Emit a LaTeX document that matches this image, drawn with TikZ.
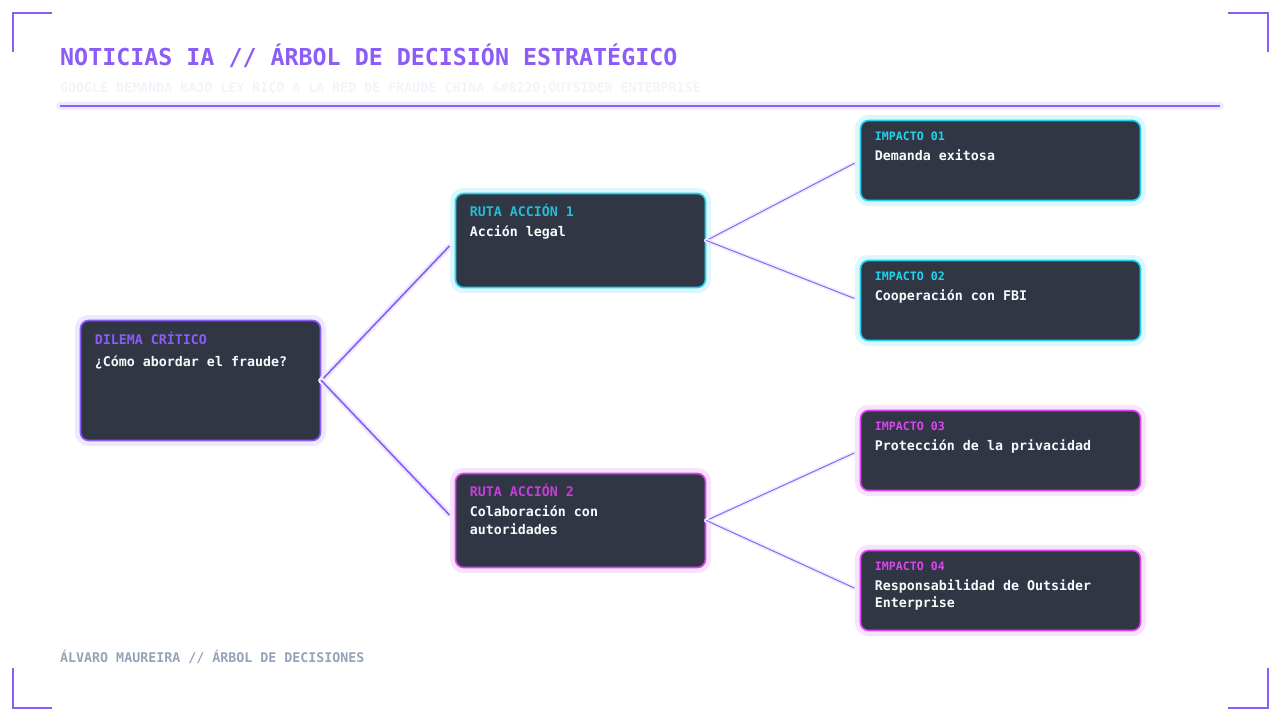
\documentclass[tikz,border=0pt]{standalone}
\usepackage{fontspec}
\setmainfont{DejaVu Sans Mono}
\usetikzlibrary{positioning}
\definecolor{violeta}{HTML}{8B5CF6}
\definecolor{glowv}{HTML}{EDE9FE}
\definecolor{cian}{HTML}{22D3EE}
\definecolor{cianlbl}{HTML}{26BCD6}
\definecolor{glowc}{HTML}{DDF7FC}
\definecolor{magenta}{HTML}{D946EF}
\definecolor{magentalbl}{HTML}{C73FDB}
\definecolor{glowm}{HTML}{F7E3FC}
\definecolor{panel}{HTML}{303644}
\definecolor{blanco}{HTML}{F8FAFC}
\definecolor{tenue}{HTML}{F1F5F9}
\definecolor{gris}{HTML}{94A3B8}

\begin{document}
\begin{tikzpicture}[x=1pt,y=-1pt,line cap=round]
\tikzstyle{marco}=[draw=violeta, line width=2pt, line cap=butt]
\tikzstyle{box}=[draw, rounded corners=8pt, fill=panel, line width=1.6pt, inner sep=0pt]
\tikzstyle{dilema}=[box, draw=violeta, preaction={draw=glowv, line width=11pt}, minimum width=240pt, minimum height=120pt]
\tikzstyle{rutac}=[box, draw=cian, preaction={draw=glowc, line width=11pt}, minimum width=250pt, minimum height=94pt]
\tikzstyle{rutam}=[box, draw=magenta, preaction={draw=glowm, line width=11pt}, minimum width=250pt, minimum height=94pt]
\tikzstyle{impc}=[box, draw=cian, preaction={draw=glowc, line width=11pt}, minimum width=280pt, minimum height=80pt]
\tikzstyle{impm}=[box, draw=magenta, preaction={draw=glowm, line width=11pt}, minimum width=280pt, minimum height=80pt]
\tikzstyle{lbl}=[inner sep=0pt, font=\fontsize{13.3}{16}\selectfont\bfseries]
\tikzstyle{lblchico}=[inner sep=0pt, font=\fontsize{11.6}{14}\selectfont\bfseries]
\tikzstyle{txt}=[inner sep=0pt, text=blanco, align=left, font=\fontsize{13.3}{18}\selectfont\bfseries]
\tikzstyle{txtimp}=[inner sep=0pt, text=blanco, align=left, font=\fontsize{13.3}{16.5}\selectfont\bfseries]
\tikzstyle{rama}=[draw=violeta, line width=1.6pt, shorten >=8pt, preaction={draw=glowv, line width=6pt}]
\tikzstyle{ramita}=[draw=violeta, line width=0.9pt, shorten >=6pt, preaction={draw=glowv, line width=4pt}]
\useasboundingbox (0,0) rectangle (1280,720);

% esquinas
\draw[marco] (13,52) -- (13,13) -- (52,13);
\draw[marco] (1228,13) -- (1268,13) -- (1268,52);
\draw[marco] (13,668) -- (13,708) -- (52,708);
\draw[marco] (1228,708) -- (1268,708) -- (1268,668);

% cabecera
\node[inner sep=0pt, anchor=base west, text=violeta, font=\fontsize{23.3}{28}\selectfont\bfseries] (titulo) at (60,65) {NOTICIAS IA // ÁRBOL DE DECISIÓN ESTRATÉGICO};
\node[lbl, anchor=base west, text=tenue] (subtitulo) at (60,92) {GOOGLE DEMANDA BAJO LEY RICO A LA RED DE FRAUDE CHINA \&\#8220;OUTSIDER ENTERPRISE};
\draw[draw=violeta, line width=2pt, line cap=butt, preaction={draw=glowv, line width=8pt}] (60,106) -- (1220,106);

% cajas
\node[dilema] (D) at (200.5,380.5) {};
\node[rutac] (R1) at (580.5,240.5) {};
\node[rutam] (R2) at (580.5,520.5) {};
\node[impc] (I1) at (1000.5,160.5) {};
\node[impc] (I2) at (1000.5,300.5) {};
\node[impm] (I3) at (1000.5,450.5) {};
\node[impm] (I4) at (1000.5,590.5) {};

% textos (base = ultima linea)
\node[lbl, text=violeta, below right=25pt and 15pt of D.north west, anchor=base west] (Dl) {DILEMA CRÍTICO};
\node[txt, below right=47pt and 15pt of D.north west, anchor=base west] (Dt) {¿Cómo abordar el fraude?};
\node[lbl, text=cianlbl, below right=24pt and 15pt of R1.north west, anchor=base west] (R1l) {RUTA ACCIÓN 1};
\node[txt, below right=44pt and 15pt of R1.north west, anchor=base west] (R1t) {Acción legal};
\node[lbl, text=magentalbl, below right=24pt and 15pt of R2.north west, anchor=base west] (R2l) {RUTA ACCIÓN 2};
\node[txt, below right=62pt and 15pt of R2.north west, anchor=base west] (R2t) {Colaboración con\\autoridades};
\node[lblchico, text=cian, below right=21pt and 15pt of I1.north west, anchor=base west] (I1l) {IMPACTO 01};
\node[txtimp, below right=41pt and 15pt of I1.north west, anchor=base west] (I1t) {Demanda exitosa};
\node[lblchico, text=cian, below right=21pt and 15pt of I2.north west, anchor=base west] (I2l) {IMPACTO 02};
\node[txtimp, below right=41pt and 15pt of I2.north west, anchor=base west] (I2t) {Cooperación con FBI};
\node[lblchico, text=magenta, below right=21pt and 15pt of I3.north west, anchor=base west] (I3l) {IMPACTO 03};
\node[txtimp, below right=41pt and 15pt of I3.north west, anchor=base west] (I3t) {Protección de la privacidad};
\node[lblchico, text=magenta, below right=21pt and 15pt of I4.north west, anchor=base west] (I4l) {IMPACTO 04};
\node[txtimp, below right=57.5pt and 15pt of I4.north west, anchor=base west] (I4t) {Responsabilidad de Outsider\\Enterprise};

% ramas
\path (D.east) edge[rama] (R1.west)
               edge[rama] (R2.west);
\path (R1.east) edge[ramita] (I1.west)
                edge[ramita] (I2.west)
      (R2.east) edge[ramita] (I3.west)
                edge[ramita] (I4.west);

% pie
\node[lbl, anchor=base west, text=gris] (pie) at (60,662) {ÁLVARO MAUREIRA // ÁRBOL DE DECISIONES};
\end{tikzpicture}
\end{document}
